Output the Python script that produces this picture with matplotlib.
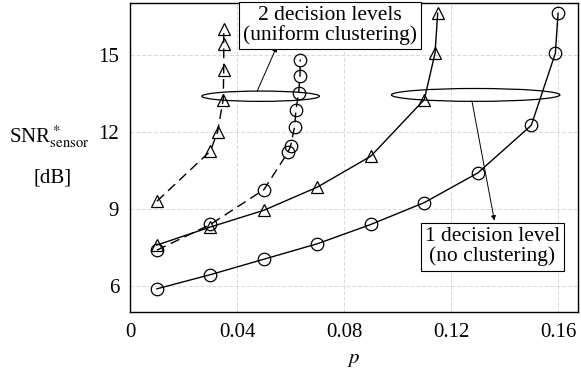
import numpy as np
import matplotlib.pyplot as plt
from matplotlib.patches import Ellipse

plt.rcParams['font.family'] = ['Liberation Serif', 'DejaVu Serif']
plt.rcParams['mathtext.fontset'] = 'stix'
plt.rcParams.update({'font.size': 15})

# 1 decision level (no clustering)
p_one_circ = [0.01, 0.03, 0.05, 0.07, 0.09, 0.11, 0.13, 0.15, 0.159, 0.16]
snr_one_circ = [5.9, 6.45, 7.05, 7.65, 8.4, 9.25, 10.4, 12.25, 15.05, 16.6]
p_one_tri = [0.01, 0.03, 0.05, 0.07, 0.09, 0.11, 0.114, 0.115]
snr_one_tri = [7.6, 8.3, 8.95, 9.85, 11.05, 13.25, 15.05, 16.6]

# 2 decision levels (uniform clustering)
p_two_tri = [0.01, 0.03, 0.0327, 0.0348, 0.035, 0.035, 0.035]
snr_two_tri = [9.3, 11.25, 12.0, 13.25, 14.4, 15.4, 16.0]
p_two_circ = [0.01, 0.03, 0.05, 0.059, 0.06, 0.0615, 0.062, 0.063, 0.0635, 0.0636]
snr_two_circ = [7.4, 8.4, 9.75, 11.2, 11.45, 12.2, 12.85, 13.5, 14.15, 14.8]

xticks = [0, 0.04, 0.08, 0.12, 0.16]
xtick_labels = ['0', '0.04', '0.08', '0.12', '0.16']
yticks = [6, 9, 12, 15]

fig = plt.figure(figsize=(5.81, 3.75), dpi=100)
ax = fig.add_axes([0.224, 0.168, 0.771, 0.824])

mk = dict(markerfacecolor='none', markeredgecolor='k', markeredgewidth=0.9,
          color='k', linewidth=1.0)
ax.plot(p_one_circ, snr_one_circ, marker='o', markersize=9, linestyle='-', **mk)
ax.plot(p_one_tri, snr_one_tri, marker='^', markersize=9, linestyle='-', **mk)
ax.plot(p_two_tri, snr_two_tri, marker='^', markersize=9, linestyle=(0, (7, 4)), **mk)
ax.plot(p_two_circ, snr_two_circ, marker='o', markersize=9, linestyle=(0, (7, 4)), **mk)

# ellipses grouping the curves
ax.add_patch(Ellipse((0.0488, 13.38), 0.044, 0.4, fill=False, color='k', lw=0.9))
ax.add_patch(Ellipse((0.1292, 13.43), 0.063, 0.5, fill=False, color='k', lw=0.9))

box = dict(boxstyle='square,pad=0.2', fc='white', ec='k', lw=0.8)
arw = dict(arrowstyle='-|>', color='k', lw=0.7, mutation_scale=7,
           shrinkA=0, shrinkB=0)

# arrows from the ellipses to the labels
ax.annotate('', xy=(0.0548, 15.3), xytext=(0.0475, 13.58), arrowprops=arw)
ax.annotate('', xy=(0.1362, 8.55), xytext=(0.1278, 13.2), arrowprops=arw)

ax.text(0.0748, 16.12, '2 decision levels\n(uniform clustering)', ha='center',
        va='center', linespacing=1.0, fontsize=15.5, bbox=box, zorder=5)
ax.text(0.1355, 7.53, '1 decision level\n(no clustering)', ha='center',
        va='center', linespacing=1.0, fontsize=15.5, bbox=box, zorder=5)

ax.set_xlim(0, 0.1675)
ax.set_ylim(5, 17)
ax.set_xticks(xticks)
ax.set_xticklabels(xtick_labels)
ax.set_yticks(yticks)
ax.tick_params(length=0, pad=8)
ax.grid(True, color='#d8d8d8', linestyle=(0, (4, 2)), linewidth=0.7)
ax.set_axisbelow(True)
for s in ax.spines.values():
    s.set_linewidth(1.0)

ax.set_xlabel('$p$', labelpad=6)
fig.text(0.085, 0.635, r'SNR$^*_{\mathrm{sensor}}$', ha='center', va='center')
fig.text(0.09, 0.525, '[dB]', ha='center', va='center')

fig.savefig('out.png', dpi=100)
